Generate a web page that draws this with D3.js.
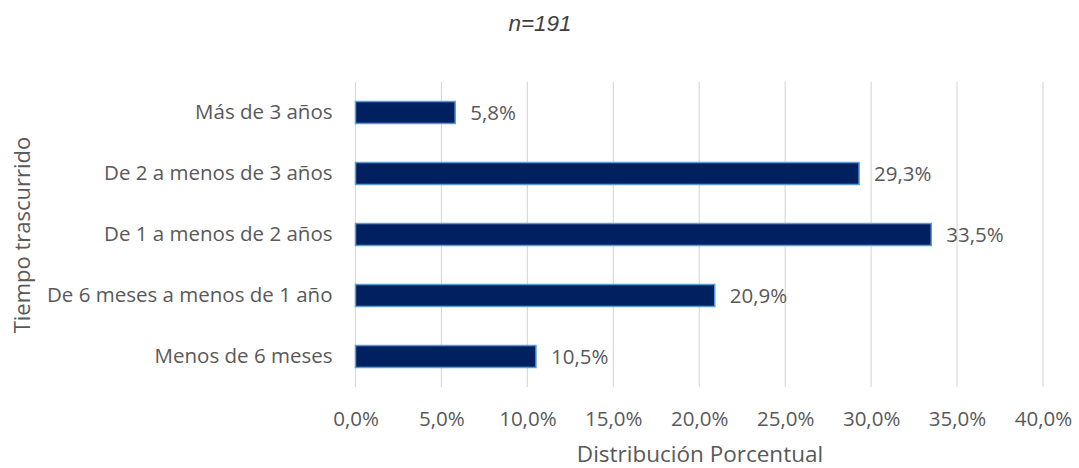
<!DOCTYPE html>
<html>
<head>
<meta charset="utf-8">
<script src="https://cdn.jsdelivr.net/npm/d3@7"></script>
<style>
  body { margin: 0; background: #ffffff; }
  text { font-family: "Open Sans", "DejaVu Sans", sans-serif; fill: #595959; }
</style>
</head>
<body>
<script>
var SVG_WIDTH = 1079;
var SVG_HEIGHT = 468;

// chart data
var categories = ["Más de 3 años", "De 2 a menos de 3 años", "De 1 a menos de 2 años",
                  "De 6 meses a menos de 1 año", "Menos de 6 meses"];
var values = [5.8, 29.3, 33.5, 20.9, 10.5];
var tickValues = [0, 5, 10, 15, 20, 25, 30, 35, 40];

var chart_title = "n=191";
var x_title = "Distribución Porcentual";
var y_title = "Tiempo trascurrido";

var margin = { top: 82, right: 36, bottom: 81, left: 355.5 };
var plot_width = SVG_WIDTH - margin.left - margin.right;
var plot_height = SVG_HEIGHT - margin.top - margin.bottom;

var bar_fill = "#002060";
var bar_stroke = "#5b9bd5";
var grid_color = "#d9d9d9";

var fmt = function (v) { return v.toFixed(1).replace(".", ",") + "%"; };

var svg = d3.select("body").append("svg")
  .attr("width", SVG_WIDTH)
  .attr("height", SVG_HEIGHT);

var x = d3.scaleLinear().domain([0, 40]).range([0, plot_width]);
var y = d3.scaleBand().domain(categories).range([0, plot_height]).paddingInner(0.64).paddingOuter(0.32);

var g = svg.append("g").attr("transform", "translate(" + margin.left + "," + margin.top + ")");

// vertical gridlines
g.selectAll(".grid")
  .data(tickValues).enter()
  .append("line")
    .attr("class", "grid")
    .attr("x1", function (d) { return x(d); })
    .attr("x2", function (d) { return x(d); })
    .attr("y1", 0)
    .attr("y2", plot_height)
    .style("stroke", grid_color)
    .style("stroke-width", 1.2);

// x axis labels (no axis line)
var xAxis = d3.axisBottom(x).tickValues(tickValues).tickSize(0).tickPadding(0).tickFormat(fmt);
var xg = g.append("g").attr("transform", "translate(0," + (426 - margin.top) + ")").call(xAxis);
xg.select(".domain").remove();
xg.selectAll("text").attr("y", 0).attr("dy", 0).style("font-size", "20.5px").style("fill", "#595959");

// y axis labels
var yAxis = d3.axisLeft(y).tickSize(0).tickPadding(23);
var yg = g.append("g").call(yAxis);
yg.select(".domain").remove();
yg.selectAll("text").style("font-size", "20.5px").style("fill", "#595959");

// bars
g.selectAll(".bar")
  .data(values).enter()
  .append("rect")
    .attr("class", "bar")
    .attr("x", x(0))
    .attr("y", function (d, i) { return y(categories[i]); })
    .attr("width", function (d) { return x(d) - x(0); })
    .attr("height", y.bandwidth())
    .style("fill", bar_fill)
    .style("stroke", bar_stroke)
    .style("stroke-width", 1.5);

// value labels
g.selectAll(".value")
  .data(values).enter()
  .append("text")
    .attr("class", "value")
    .attr("x", function (d) { return x(d) + 15; })
    .attr("y", function (d, i) { return y(categories[i]) + y.bandwidth() / 2; })
    .attr("dy", "0.35em")
    .style("font-size", "20.5px")
    .text(fmt);

// title
svg.append("text")
  .attr("x", 540)
  .attr("y", 31)
  .attr("text-anchor", "middle")
  .style("font-family", "Liberation Sans, Arial, sans-serif")
  .style("font-style", "italic")
  .style("font-size", "22.5px")
  .style("fill", "#404040")
  .text(chart_title);

// axis titles
svg.append("text")
  .attr("x", 700)
  .attr("y", 462)
  .attr("text-anchor", "middle")
  .style("font-size", "22.5px")
  .text(x_title);

svg.append("text")
  .attr("transform", "translate(22," + 235 + ") rotate(-90)")
  .attr("dy", "0.35em")
  .attr("text-anchor", "middle")
  .style("font-size", "22px")
  .text(y_title);
</script>
</body>
</html>
